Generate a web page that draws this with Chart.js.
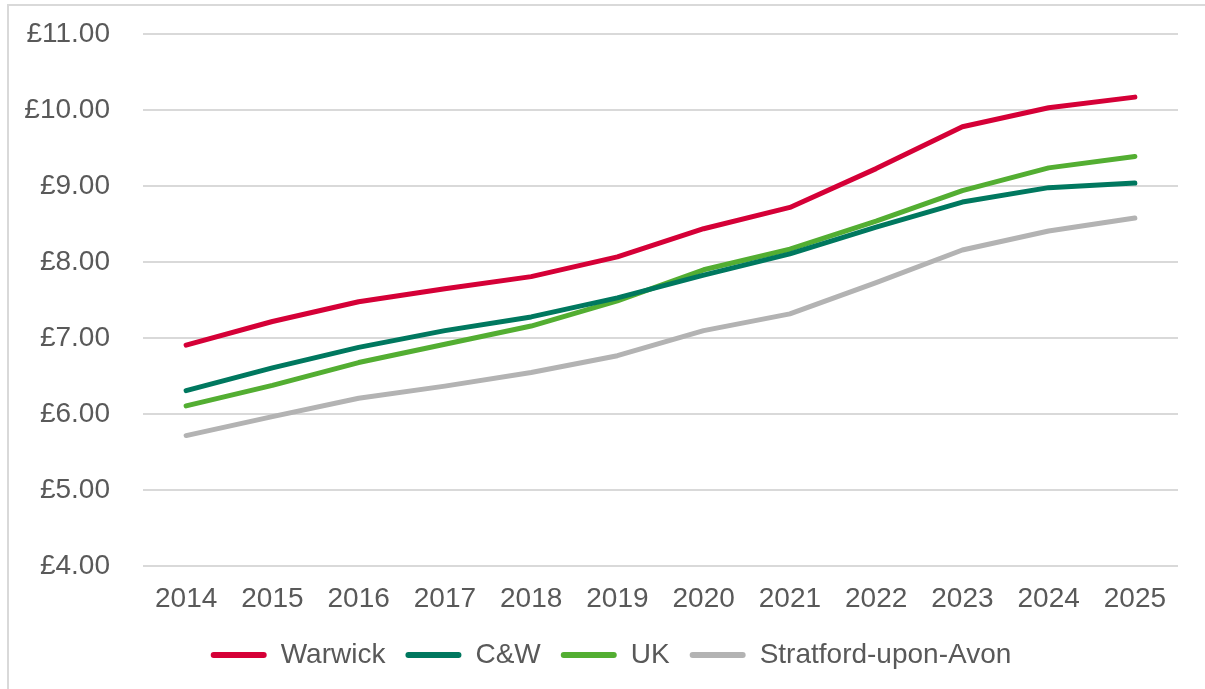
<!DOCTYPE html>
<html>
<head>
<meta charset="utf-8">
<title>Hourly pay</title>
<script src="https://cdn.jsdelivr.net/npm/chart.js@4.4.1/dist/chart.umd.min.js"></script>
<style>
    html, body { margin: 0; padding: 0; background: #fff; }
    #wrap { position: relative; width: 1205px; height: 689px; }
    #frame {
        position: absolute; left: 7px; top: 4px; right: 0; bottom: 0;
        border-top: 2px solid #d9d9d9; border-left: 2px solid #d9d9d9;
    }
    #chart { position: absolute; left: 0; top: 0; }
</style>
</head>
<body>
<div id="wrap">
    <div id="frame"></div>
    <canvas id="chart" width="1205" height="689"></canvas>
</div>
<script>
    // Data
    var years = ["2014", "2015", "2016", "2017", "2018", "2019", "2020", "2021", "2022", "2023", "2024", "2025"];
    var warwick = [6.91, 7.22, 7.48, 7.65, 7.81, 8.07, 8.44, 8.72, 9.23, 9.78, 10.03, 10.17];
    var cw = [6.31, 6.61, 6.88, 7.10, 7.28, 7.53, 7.83, 8.11, 8.46, 8.79, 8.98, 9.04];
    var uk = [6.11, 6.38, 6.68, 6.92, 7.16, 7.49, 7.90, 8.17, 8.54, 8.94, 9.24, 9.39];
    var stratford = [5.72, 5.97, 6.21, 6.37, 6.55, 6.77, 7.10, 7.32, 7.73, 8.16, 8.41, 8.58];

    var textColor = "#595959";
    Chart.defaults.font.family = "'Liberation Sans', Arial, sans-serif";
    Chart.defaults.font.size = 28;
    Chart.defaults.color = textColor;

    function line(label, data, color) {
        return {
            label: label,
            data: data,
            borderColor: color,
            backgroundColor: color,
            borderWidth: 5,
            borderCapStyle: "round",
            borderJoinStyle: "round",
            pointRadius: 0,
            tension: 0
        };
    }

    // nudge the legend a bit to the right, like the original
    var legendShift = {
        id: "legendShift",
        afterLayout: function (chart) {
            chart.legend.left += 22;
            chart.legend.right += 22;
        }
    };

    var ctx = document.getElementById("chart").getContext("2d");
    var myChart = new Chart(ctx, {
        type: "line",
        data: {
            labels: years,
            datasets: [
                line("Warwick", warwick, "#d50037"),
                line("C&W", cw, "#00785f"),
                line("UK", uk, "#53ae32"),
                line("Stratford-upon-Avon", stratford, "#b3b3b3")
            ]
        },
        options: {
            responsive: false,
            animation: false,
            layout: {
                padding: { left: 0, right: 27, top: 34, bottom: 10 }
            },
            plugins: {
                tooltip: { enabled: false },
                legend: {
                    position: "bottom",
                    labels: {
                        boxWidth: 56,
                        boxHeight: 6,
                        padding: 20,
                        useBorderRadius: true,
                        borderRadius: 3,
                        generateLabels: function (chart) {
                            return chart.data.datasets.map(function (ds, i) {
                                return {
                                    text: ds.label,
                                    fillStyle: ds.borderColor,
                                    strokeStyle: ds.borderColor,
                                    lineWidth: 0,
                                    fontColor: textColor,
                                    borderRadius: 3,
                                    datasetIndex: i
                                };
                            });
                        }
                    }
                }
            },
            scales: {
                x: {
                    offset: true,
                    afterFit: function (scale) { scale.height = scale.height - 11; },
                    grid: { display: false, drawTicks: false },
                    border: { display: false },
                    ticks: { padding: 16, maxRotation: 0, autoSkip: false }
                },
                y: {
                    min: 4,
                    max: 11,
                    afterFit: function (scale) {
                        scale.width = 143;
                        scale.paddingTop = 0;
                        scale.paddingBottom = 0;
                    },
                    grid: { color: "#d9d9d9", lineWidth: 2, drawTicks: false },
                    border: { display: false },
                    ticks: {
                        stepSize: 1,
                        padding: 33,
                        callback: function (v) { return "£" + v.toFixed(2); }
                    }
                }
            }
        },
        plugins: [legendShift]
    });
</script>
</body>
</html>
